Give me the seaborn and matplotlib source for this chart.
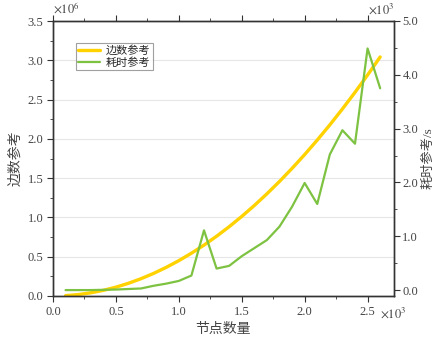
import matplotlib
matplotlib.use("Agg")
import matplotlib.pyplot as plt
import seaborn as sns
import pandas as pd
from matplotlib.ticker import MultipleLocator, FuncFormatter

# Data
nodes = [100, 200, 300, 400, 500, 600, 700, 800, 900, 1000, 1100, 1200, 1300,
         1400, 1500, 1600, 1700, 1800, 1900, 2000, 2100, 2200, 2300, 2400, 2500, 2600]
edges = [4500, 18000, 40500, 72000, 112500, 162000, 220500, 288000, 364500, 450000,
         544500, 648000, 760500, 882000, 1012500, 1152000, 1300500, 1458000, 1624500,
         1800000, 1984500, 2178000, 2380500, 2592000, 2812500, 3042000]
times = [0, 0, 0, 5, 10, 20, 30, 80, 120, 170, 270, 1110, 400, 450, 630, 780, 930,
         1180, 1550, 1990, 1600, 2520, 2970, 2720, 4490, 3750]

label_edges = "边数参考"
label_time = "耗时参考"
xlabel = "节点数量"
ylabel_left = "边数参考"
ylabel_right = "耗时参考/s"

sns.set_style("white")
plt.rcParams['font.family'] = ['Liberation Serif', 'Noto Sans CJK SC']
plt.rcParams['mathtext.fontset'] = 'stix'

df = pd.DataFrame({"nodes": nodes, "edges": edges, "times": times})

fig = plt.figure(figsize=(4.35, 3.42), dpi=100)
L, R, T, B = 53, 394, 21, 296
ax = fig.add_axes([L/435, 1 - B/342, (R-L)/435, (B-T)/342])
ax2 = ax.twinx()

c_y = "#FFD200"
c_g = "#7DC241"
sns.lineplot(data=df, x="nodes", y="edges", ax=ax, color=c_y, lw=2.4, label=label_edges, legend=False)
sns.lineplot(data=df, x="nodes", y="times", ax=ax2, color=c_g, lw=1.6, label=label_time, legend=False)

ax.set_xlim(0, 2710)
ax.set_ylim(0, 3.5e6)
ax2.set_ylim(-110, 5000)

ax.xaxis.set_major_locator(MultipleLocator(500))
ax.xaxis.set_minor_locator(MultipleLocator(250))
ax.yaxis.set_major_locator(MultipleLocator(5e5))
ax.yaxis.set_minor_locator(MultipleLocator(2.5e5))
ax2.yaxis.set_major_locator(MultipleLocator(1000))
ax2.yaxis.set_minor_locator(MultipleLocator(500))

ax.xaxis.set_major_formatter(FuncFormatter(lambda v, p: f"{v/1000:.1f}"))
ax.yaxis.set_major_formatter(FuncFormatter(lambda v, p: f"{v/1e6:.1f}"))
ax2.yaxis.set_major_formatter(FuncFormatter(lambda v, p: f"{v/1000:.1f}"))

ax.grid(axis='y', which='major', color='#e6e6e6', lw=0.8)
ax.set_axisbelow(True)

for a in (ax, ax2):
    for s in a.spines.values():
        s.set_color('#333333')
        s.set_linewidth(1.0)

ax.tick_params(axis='x', which='both', direction='out', top=True, bottom=True, labelsize=9,
               colors='#333333', labelcolor='#444444', pad=3)
ax.tick_params(axis='x', which='major', length=4)
ax.tick_params(axis='x', which='minor', length=2.5)
ax.tick_params(axis='y', which='major', direction='out', length=4, labelsize=9, left=True,
               colors='#333333', labelcolor='#444444', pad=3)
ax.tick_params(axis='y', which='minor', direction='out', length=2.5, left=True, colors='#333333')
ax2.tick_params(axis='y', which='major', direction='out', length=4, labelsize=9, right=True,
                colors='#333333', labelcolor='#444444', pad=2)
ax2.tick_params(axis='y', which='minor', direction='out', length=2.5, right=True, colors='#333333')

ax.set_xlabel(xlabel, fontsize=10, color='#444444', labelpad=4)
ax.set_ylabel(ylabel_left, fontsize=10, color='#444444', labelpad=4)
ax2.set_ylabel(ylabel_right, fontsize=9.5, color='#444444', rotation=90, va='center', ha='center')
ax2.yaxis.set_label_coords((428 - L) / (R - L), 0.5)

ax.text(0.0, 1.015, r'$\times10^{6}$', transform=ax.transAxes, fontsize=9, color='#444444',
        ha='left', va='bottom')
ax.text(1.0, 1.015, r'$\times10^{3}$', transform=ax.transAxes, fontsize=9, color='#444444',
        ha='right', va='bottom')
ax.text(0.96, -0.035, r'$\times10^{3}$', transform=ax.transAxes, fontsize=9, color='#444444',
        ha='left', va='top')

h1, l1 = ax.get_legend_handles_labels()
h2, l2 = ax2.get_legend_handles_labels()
leg = ax2.legend(h1 + h2, l1 + l2, loc='upper left', bbox_to_anchor=(0.067, 0.92), fontsize=8,
                 frameon=True, fancybox=False, edgecolor='#888888', handlelength=2.0,
                 borderpad=0.2, labelspacing=0.1, handletextpad=0.5, borderaxespad=0)
leg.get_frame().set_linewidth(0.8)

fig.savefig("out.png", dpi=100)
